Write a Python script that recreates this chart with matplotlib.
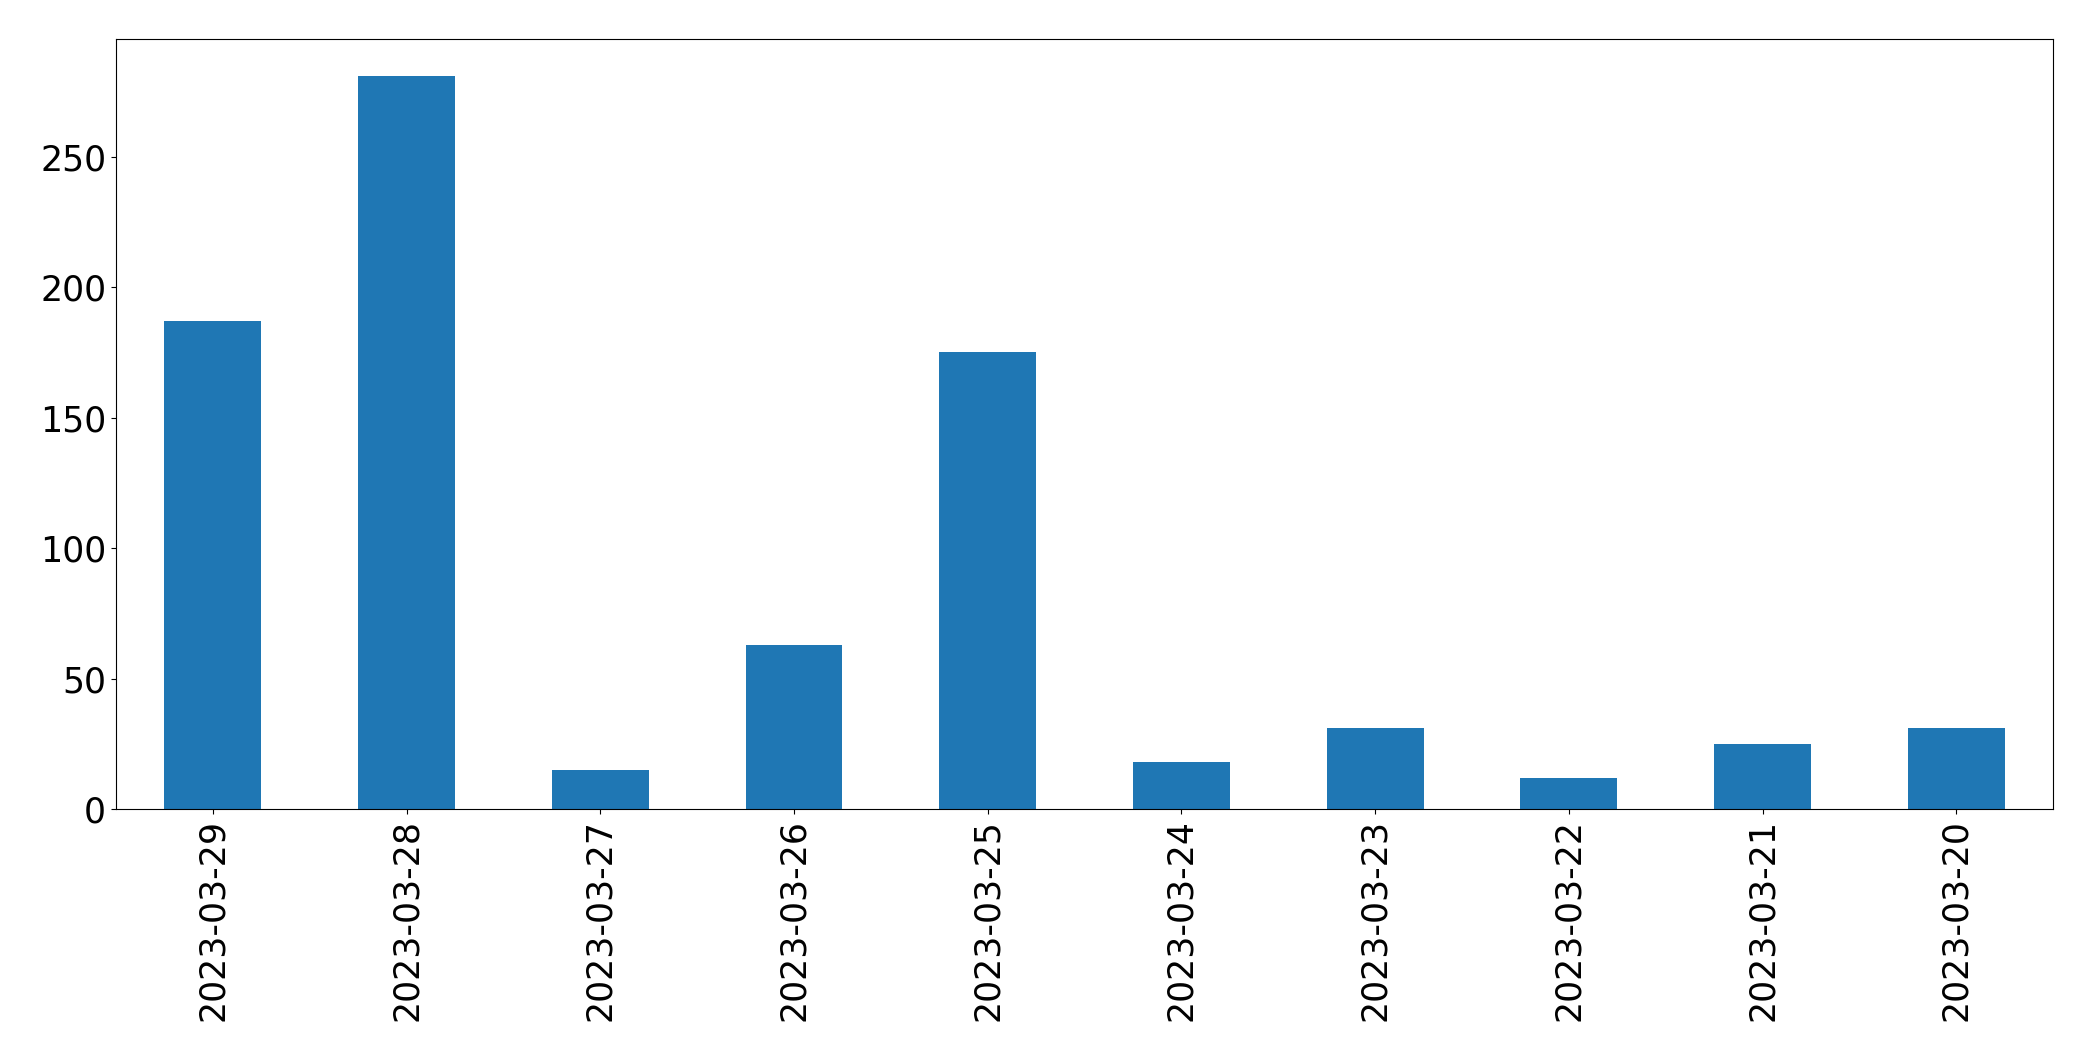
import matplotlib
matplotlib.use("Agg")
import matplotlib.pyplot as plt
import numpy as np

# daily counts, newest first (as in the original)
dates = ["2023-03-29", "2023-03-28", "2023-03-27", "2023-03-26", "2023-03-25",
         "2023-03-24", "2023-03-23", "2023-03-22", "2023-03-21", "2023-03-20"]
counts = [187, 281, 15, 63, 175, 18, 31, 12, 25, 31]

fig, ax = plt.subplots(figsize=(20.93, 10.61), dpi=100)
fig.subplots_adjust(left=0.0554, right=0.981, top=0.9632, bottom=0.2375)

x = np.arange(len(dates))
ax.bar(x, counts, width=0.5, color="#1f77b4")
ax.set_xlim(-0.5, len(dates) - 0.5)
ax.set_xticks(x)
ax.set_xticklabels(dates, rotation=90)
ax.tick_params(axis="both", labelsize=25)

fig.savefig("out.png")
